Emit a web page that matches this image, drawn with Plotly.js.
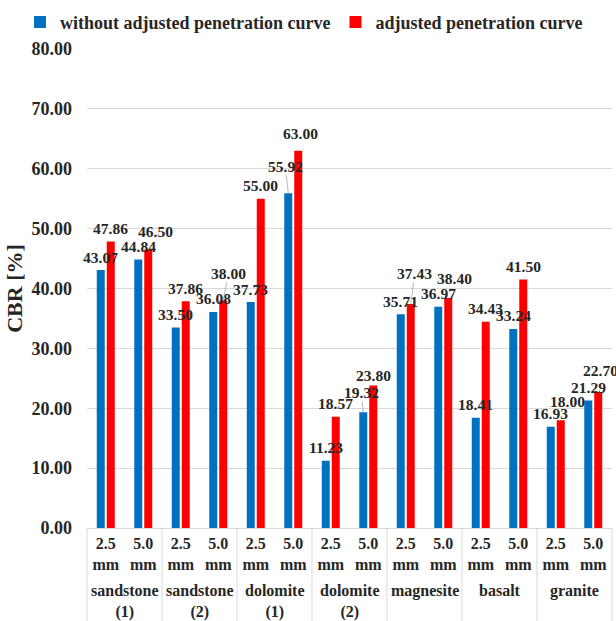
<!DOCTYPE html>
<html><head><meta charset="utf-8">
<script src="https://cdn.plot.ly/plotly-3.0.1.min.js"></script>
<style>html,body{margin:0;padding:0;background:#fff;}#chart{width:616px;height:621px;}</style>
</head><body><div id="chart"></div>
<script>
// ---- data ----
const materials = ['sandstone<br>(1)', 'sandstone<br>(2)', 'dolomite<br>(1)', 'dolomite<br>(2)', 'magnesite', 'basalt', 'granite'];
const depths = ['2.5<br>mm', '5.0<br>mm'];
const withoutAdjusted = [43.07, 44.84, 33.50, 36.08, 37.73, 55.92, 11.23, 19.32, 35.71, 36.97, 18.41, 33.24, 16.93, 21.29];
const adjusted = [47.86, 46.50, 37.86, 38.00, 55.00, 63.00, 18.57, 23.80, 37.43, 38.40, 34.43, 41.50, 18.00, 22.70];
const seriesNames = ['without adjusted penetration curve', 'adjusted penetration curve'];
const yTickValues = [0, 10, 20, 30, 40, 50, 60, 70, 80];
const yTitle = 'CBR [%]';

// ---- label placement tweaks (pixels): [dx, dyUp, leaderLine] ----
const labelTweaks = {
  '1|1': [7, 18, false],
  '1|3': [5, 27, true],
  '0|5': [-3, 27, true],
  '1|5': [2, 17, false],
  '0|7': [-2, 20, true],
  '1|7': [0, 10, false],
  '1|8': [4, 30, true],
  '1|9': [6, 20, false],
  '1|12': [7, 19, false],
  '1|13': [2, 22, false]
};

const FONT = 'Liberation Serif, Times New Roman, serif';
const TXT = '#262626';
const GRID = '#d9d9d9';
const colors = ['#0070C0', '#FF0000'];
const bargap = 0.467, bargroupgap = 0.2;
const M = {l: 87, r: 4, t: 44, b: 93};
const plotH = 621 - M.t - M.b;

const outer = [], inner = [];
materials.forEach(m => depths.forEach(d => { outer.push(m); inner.push(d); }));
const nCat = outer.length;

const series = [withoutAdjusted, adjusted];
const traces = series.map((vals, s) => ({
  type: 'bar',
  name: seriesNames[s],
  x: [outer, inner],
  y: vals,
  marker: {color: colors[s], line: {width: 0}},
  hoverinfo: 'skip'
}));

const slot = (1 - bargap) / 2;
const annotations = [];
series.forEach((vals, s) => {
  vals.forEach((v, i) => {
    const t = labelTweaks[s + '|' + i] || [0, 13, false];
    annotations.push({
      xref: 'x2', yref: 'y',
      x: i + (s === 0 ? -slot / 2 : slot / 2),
      y: v,
      text: '<b>' + v.toFixed(2) + '</b>',
      showarrow: true,
      arrowhead: 0,
      arrowwidth: 0.8,
      arrowcolor: t[2] ? '#a6a6a6' : 'rgba(0,0,0,0)',
      standoff: 0,
      ax: t[0], ay: -t[1],
      font: {family: FONT, size: 15.5, color: TXT},
      borderpad: 0
    });
  });
});
// outer (material) labels
materials.forEach((m, k) => {
  annotations.push({
    xref: 'x2', yref: 'paper',
    x: k * depths.length + (depths.length - 1) / 2,
    y: -(582 - (621 - M.b)) / plotH,
    yanchor: 'top', xanchor: 'center',
    text: '<b>' + m + '</b>',
    showarrow: false, borderpad: 0,
    font: {family: FONT, size: 16, color: TXT}
  });
});

// category box dividers
const shapes = [];
for (let k = 0; k <= materials.length; k++) {
  shapes.push({
    type: 'line', xref: 'paper', yref: 'paper',
    x0: k * depths.length / nCat, x1: k * depths.length / nCat,
    y0: 0, y1: -(M.b + 10) / plotH,
    line: {color: GRID, width: 1}
  });
}

const layout = {
  width: 616, height: 621,
  margin: M,
  paper_bgcolor: '#fff', plot_bgcolor: '#fff',
  barmode: 'group', bargap: bargap, bargroupgap: bargroupgap,
  font: {family: FONT, color: TXT, weight: 'bold'},
  showlegend: true,
  legend: {
    orientation: 'h', xref: 'paper', yref: 'paper',
    x: (20 - M.l) / (616 - M.l - M.r), xanchor: 'left',
    y: ((621 - M.b) - 17) / plotH, yanchor: 'middle',
    font: {family: FONT, size: 18, color: TXT, weight: 'bold'},
    itemclick: false, traceorder: 'normal', borderwidth: 0
  },
  xaxis: {
    type: 'multicategory',
    showline: true, linecolor: GRID, linewidth: 1,
    showgrid: false, ticks: '', showticklabels: false,
    showdividers: false,
    automargin: false
  },
  xaxis2: {
    overlaying: 'x', side: 'bottom', range: [-0.5, nCat - 0.5],
    tickmode: 'array',
    tickvals: inner.map((_, i) => i), ticktext: inner,
    showgrid: false, zeroline: false, showline: false, ticks: '',
    ticklabelstandoff: 4,
    tickfont: {family: FONT, size: 16, color: TXT, weight: 'bold'},
    fixedrange: true, automargin: false
  },
  yaxis: {
    range: [0, 80], tickvals: yTickValues, tickformat: '.2f',
    showgrid: true, gridcolor: GRID, gridwidth: 1,
    zeroline: false, showline: false, ticks: '',
    ticklabelstandoff: 14,
    tickfont: {family: FONT, size: 18, color: TXT, weight: 'bold'},
    title: {text: yTitle, font: {family: FONT, size: 22, color: TXT, weight: 'bold'}, standoff: 2},
    automargin: false
  },
  annotations: annotations,
  shapes: shapes
};

Plotly.newPlot('chart', traces, layout, {displayModeBar: false, staticPlot: true});
</script>
</body></html>
